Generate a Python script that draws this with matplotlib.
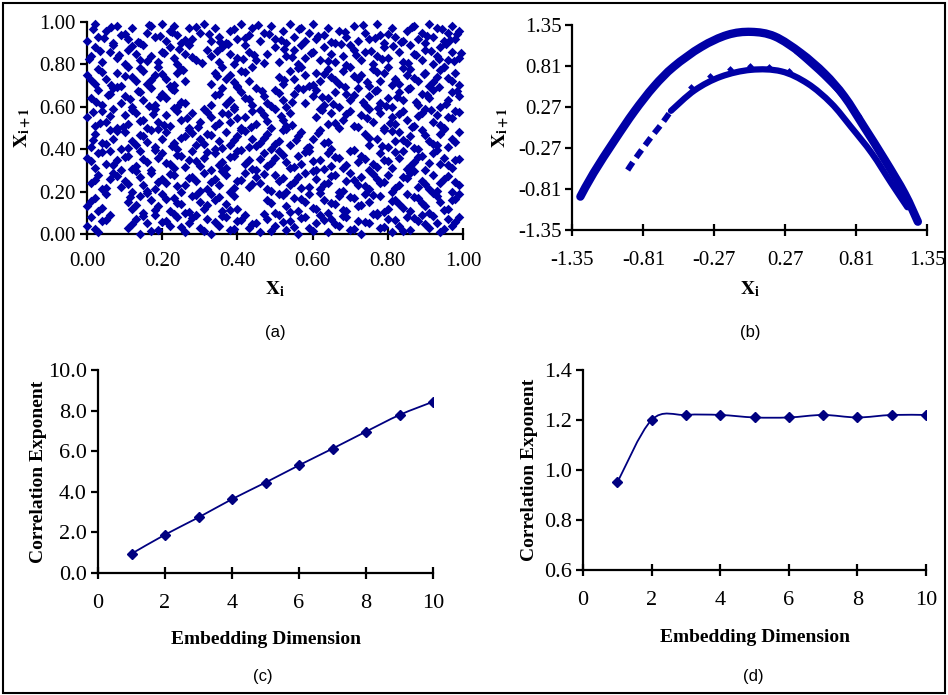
import matplotlib
matplotlib.use("Agg")
import matplotlib.pyplot as plt
from matplotlib.path import Path
from matplotlib.patches import PathPatch, Rectangle
from matplotlib.ticker import FormatStrFormatter

plt.rcParams['font.family'] = ['Liberation Serif', 'DejaVu Serif']
plt.rcParams['mathtext.fontset'] = 'stix'

BLUE = '#0000a6'
NAVY = '#000080'

rx9 = [.00, .02, .03, .05, .07, .08, .09, .11, .12, .14, .16, .17, .18, .20, .21, .22, .23, .24, .25, .27, .28, .30, .31, .33, .34, .35, .37, .38, .40, .41, .43, .44, .46, .47, .49, .50, .52, .53, .54, .55, .57, .58, .59, .60, .61, .63, .64, .66, .67, .69, .71, .72, .74, .75, .77, .78, .79, .81, .82, .84, .85, .87, .88, .89, .90, .91, .92, .93, .95, .96, .97, .98, .99]
ry9 = [.91, .99, .93, .96, .90, .98, .94, .92, .97, .90, .95, .98, .93, .99, .91, .96, .98, .94, .90, .97, .92, .95, .99, .91, .97, .93, .90, .96, .92, .99, .94, .97, .91, .95, .98, .92, .96, .90, .99, .93, .97, .91, .95, .99, .92, .94, .97, .90, .96, .93, .98, .91, .95, .92, .99, .94, .90, .97, .93, .91, .96, .98, .92, .95, .90, .99, .93, .97, .91, .95, .98, .92, .96]
rx8 = [.01, .02, .04, .06, .07, .08, .10, .11, .13, .14, .15, .17, .19, .20, .22, .23, .24, .26, .27, .29, .32, .33, .35, .36, .38, .39, .40, .42, .43, .45, .48, .50, .51, .53, .55, .56, .57, .58, .60, .62, .63, .65, .66, .68, .70, .71, .73, .74, .76, .77, .79, .80, .83, .84, .86, .87, .89, .90, .92, .93, .94, .95, .96, .97, .99]
ry8 = [.84, .88, .81, .86, .89, .83, .80, .87, .85, .82, .89, .84, .81, .86, .88, .83, .80, .85, .89, .82, .87, .84, .81, .88, .85, .80, .83, .89, .86, .82, .85, .88, .81, .84, .87, .80, .89, .83, .86, .82, .88, .85, .81, .84, .89, .87, .82, .86, .80, .84, .88, .83, .86, .81, .89, .85, .82, .87, .80, .84, .88, .79, .82, .86, .83]
rx7 = [.00, .02, .03, .05, .08, .09, .11, .12, .13, .15, .16, .18, .19, .21, .22, .24, .25, .26, .33, .34, .36, .37, .38, .40, .41, .43, .44, .51, .52, .54, .55, .57, .58, .59, .61, .62, .64, .65, .67, .68, .70, .72, .73, .75, .76, .78, .79, .80, .82, .83, .85, .86, .88, .90, .91, .93, .95, .97, .98]
ry7 = [.75, .71, .78, .73, .76, .70, .79, .74, .72, .77, .71, .75, .79, .73, .70, .76, .78, .72, .71, .76, .79, .73, .75, .70, .77, .72, .79, .74, .71, .77, .73, .79, .75, .70, .76, .72, .78, .74, .71, .77, .79, .73, .75, .70, .78, .72, .76, .79, .73, .71, .75, .78, .72, .76, .70, .74, .79, .72, .76]
rx6 = [.01, .03, .04, .06, .07, .09, .10, .12, .14, .15, .17, .18, .20, .21, .23, .24, .26, .33, .35, .36, .38, .39, .41, .42, .44, .45, .47, .48, .50, .52, .53, .55, .56, .58, .60, .61, .63, .64, .66, .67, .69, .70, .72, .74, .75, .77, .78, .80, .81, .83, .84, .86, .88, .89, .91, .92, .94, .96, .97, .99]
ry6 = [.64, .68, .61, .66, .69, .62, .65, .60, .67, .63, .69, .61, .66, .64, .68, .60, .62, .61, .66, .69, .63, .60, .67, .64, .61, .69, .65, .62, .68, .63, .60, .66, .69, .62, .65, .68, .61, .64, .67, .60, .66, .63, .69, .61, .65, .68, .62, .64, .60, .67, .63, .69, .61, .66, .64, .68, .60, .63, .67, .65]
rx5 = [.00, .02, .04, .05, .07, .08, .10, .11, .13, .15, .16, .18, .19, .21, .22, .24, .25, .27, .28, .30, .31, .33, .34, .36, .38, .39, .41, .42, .44, .45, .47, .49, .50, .52, .53, .54, .61, .62, .64, .65, .67, .68, .70, .71, .73, .75, .76, .78, .79, .81, .82, .84, .85, .87, .89, .90, .92, .93, .95, .96, .98]
ry5 = [.55, .51, .58, .53, .59, .50, .56, .52, .57, .54, .50, .59, .53, .56, .51, .58, .54, .50, .57, .53, .59, .55, .51, .57, .53, .59, .50, .55, .58, .52, .56, .50, .59, .54, .51, .57, .55, .59, .52, .57, .50, .54, .58, .51, .56, .59, .53, .57, .50, .55, .52, .58, .54, .51, .57, .59, .53, .56, .50, .55, .58]
rx4 = [.01, .02, .04, .06, .07, .09, .10, .12, .13, .15, .17, .18, .20, .21, .23, .24, .26, .27, .29, .30, .32, .34, .35, .37, .38, .40, .41, .43, .44, .46, .48, .49, .51, .52, .54, .56, .57, .59, .60, .62, .63, .65, .74, .75, .77, .79, .80, .82, .83, .85, .86, .88, .89, .91, .93, .94, .96, .97, .99]
ry4 = [.41, .47, .43, .49, .45, .40, .48, .44, .42, .46, .49, .41, .45, .48, .43, .40, .46, .49, .42, .45, .47, .40, .44, .48, .42, .46, .49, .41, .45, .43, .47, .40, .44, .49, .42, .46, .48, .41, .45, .49, .43, .40, .47, .42, .45, .49, .41, .44, .48, .43, .46, .40, .49, .44, .42, .47, .41, .45, .48]
rx3 = [.00, .02, .03, .05, .06, .08, .09, .11, .13, .14, .16, .17, .19, .20, .22, .23, .25, .27, .28, .30, .31, .33, .34, .36, .37, .39, .40, .42, .43, .45, .47, .48, .50, .51, .53, .54, .56, .57, .59, .61, .62, .64, .65, .67, .68, .70, .72, .73, .75, .76, .78, .79, .81, .83, .84, .86, .87, .89, .90, .92, .94, .95, .97, .98]
ry3 = [.36, .31, .38, .33, .39, .35, .30, .37, .32, .39, .34, .30, .36, .38, .33, .31, .37, .35, .39, .32, .36, .30, .38, .34, .31, .37, .39, .33, .35, .30, .38, .32, .36, .39, .34, .31, .37, .33, .39, .30, .35, .38, .32, .36, .31, .39, .34, .37, .30, .33, .38, .35, .31, .36, .39, .32, .34, .37, .30, .38, .33, .36, .31, .35]
rx2 = [.01, .03, .04, .06, .07, .09, .10, .12, .14, .15, .17, .18, .20, .21, .23, .25, .26, .28, .29, .31, .32, .34, .35, .37, .38, .40, .42, .43, .45, .46, .48, .50, .51, .53, .54, .56, .58, .59, .61, .62, .64, .66, .67, .69, .70, .72, .73, .75, .77, .78, .80, .81, .83, .84, .86, .88, .89, .91, .92, .94, .95, .97, .99]
ry2 = [.24, .28, .21, .26, .29, .22, .25, .20, .27, .23, .29, .21, .26, .24, .28, .20, .23, .27, .25, .29, .21, .26, .23, .28, .20, .25, .29, .22, .27, .24, .21, .28, .25, .20, .23, .27, .29, .22, .26, .21, .24, .28, .20, .25, .29, .23, .27, .21, .26, .24, .28, .20, .23, .27, .29, .22, .25, .21, .28, .24, .26, .20, .23]
rx1 = [.00, .02, .03, .05, .11, .12, .14, .15, .17, .19, .20, .22, .23, .25, .26, .28, .30, .31, .33, .34, .36, .37, .39, .40, .48, .50, .51, .53, .55, .56, .58, .59, .61, .63, .64, .66, .67, .69, .71, .72, .74, .75, .77, .78, .80, .82, .83, .85, .86, .88, .90, .91, .93, .94, .96, .97, .99]
ry1 = [.13, .17, .11, .19, .15, .12, .18, .10, .16, .13, .19, .11, .17, .14, .10, .18, .15, .12, .19, .16, .11, .14, .18, .12, .16, .10, .19, .13, .17, .11, .15, .19, .12, .16, .10, .14, .18, .11, .17, .13, .19, .15, .10, .18, .12, .16, .14, .19, .11, .17, .13, .10, .18, .15, .12, .16, .19]
rx0 = [.00, .01, .03, .04, .06, .11, .13, .14, .16, .18, .19, .21, .22, .24, .26, .27, .29, .30, .32, .33, .35, .37, .38, .40, .42, .43, .45, .46, .48, .50, .51, .53, .54, .56, .58, .59, .61, .62, .64, .65, .67, .69, .70, .72, .73, .75, .77, .78, .80, .81, .83, .85, .86, .88, .89, .91, .93, .94, .96, .97, .99]
ry0 = [.04, .08, .01, .06, .09, .03, .07, .00, .05, .09, .02, .06, .04, .08, .01, .05, .09, .03, .07, .00, .04, .08, .02, .06, .09, .03, .05, .01, .07, .04, .09, .02, .06, .00, .08, .03, .05, .09, .01, .07, .04, .08, .02, .06, .00, .05, .09, .03, .07, .01, .04, .08, .02, .06, .09, .03, .05, .01, .07, .04, .08]

# second pass over the same bands (points between the first ones)
qx9 = [.015, .045, .065, .100, .135, .165, .195, .225, .260, .290, .325, .355, .390, .420, .455, .485, .515, .565, .615, .650, .685, .735, .765, .800, .835, .865, .905, .945, .965, .985]
qy9 = [.965, .925, .975, .945, .905, .985, .935, .955, .915, .975, .945, .905, .965, .925, .985, .945, .915, .965, .935, .905, .955, .985, .925, .945, .905, .975, .935, .965, .915, .945]
qx8 = [.005, .035, .085, .120, .160, .205, .245, .280, .305, .345, .375, .415, .445, .470, .525, .545, .595, .640, .675, .715, .755, .785, .815, .855, .875, .915, .935, .955, .975, .995]
qy8 = [.825, .865, .845, .885, .815, .855, .875, .835, .805, .865, .895, .825, .845, .805, .875, .835, .855, .815, .895, .845, .865, .825, .885, .805, .845, .865, .825, .895, .815, .855]
qx7 = [.010, .040, .065, .100, .140, .170, .200, .230, .255, .345, .390, .420, .525, .560, .600, .630, .660, .690, .710, .745, .770, .810, .840, .870, .895, .920, .940, .960, .990]
qy7 = [.725, .765, .705, .745, .785, .725, .755, .705, .775, .745, .715, .765, .725, .785, .705, .755, .725, .795, .745, .715, .765, .705, .785, .735, .755, .715, .775, .735, .705]
qx6 = [.025, .055, .080, .115, .135, .165, .195, .225, .250, .340, .370, .400, .430, .465, .490, .510, .545, .575, .625, .655, .685, .710, .735, .765, .795, .825, .855, .875, .905, .935, .955, .985]
qy6 = [.625, .655, .695, .635, .675, .605, .645, .685, .625, .655, .615, .695, .635, .675, .605, .665, .625, .685, .645, .615, .695, .655, .625, .675, .605, .645, .685, .625, .655, .695, .615, .675]
qx5 = [.015, .035, .060, .095, .120, .140, .175, .205, .230, .265, .295, .320, .350, .375, .400, .435, .460, .480, .515, .545, .625, .660, .690, .720, .745, .775, .805, .830, .865, .880, .915, .940, .970, .990]
qy5 = [.575, .525, .555, .505, .585, .535, .565, .515, .595, .545, .505, .575, .525, .565, .545, .505, .585, .535, .555, .515, .585, .525, .565, .505, .545, .595, .525, .565, .505, .555, .585, .515, .545, .575]
qx4 = [.015, .050, .080, .110, .140, .160, .190, .225, .250, .280, .310, .330, .360, .390, .420, .450, .470, .500, .530, .555, .585, .615, .640, .750, .785, .810, .840, .870, .900, .920, .950, .980]
qy4 = [.445, .425, .485, .405, .465, .435, .495, .415, .455, .475, .425, .465, .405, .445, .485, .415, .455, .425, .495, .445, .405, .475, .435, .455, .415, .485, .445, .405, .465, .425, .495, .435]
qx3 = [.010, .040, .070, .100, .120, .150, .180, .210, .240, .260, .290, .320, .350, .380, .410, .440, .460, .490, .520, .550, .580, .600, .630, .660, .690, .710, .740, .770, .800, .820, .850, .880, .910, .930, .960, .990]
qy3 = [.345, .385, .325, .365, .305, .355, .395, .335, .375, .315, .345, .385, .325, .365, .395, .305, .355, .335, .375, .315, .385, .345, .305, .365, .325, .395, .355, .315, .345, .385, .305, .365, .335, .395, .325, .355]
qx2 = [.020, .050, .080, .110, .130, .160, .190, .220, .240, .270, .300, .330, .360, .390, .410, .440, .470, .490, .520, .550, .570, .600, .630, .650, .680, .710, .740, .760, .790, .820, .850, .870, .900, .930, .960, .980]
qy2 = [.255, .215, .275, .235, .295, .205, .245, .285, .225, .265, .205, .245, .295, .215, .255, .235, .285, .205, .265, .245, .215, .295, .235, .275, .205, .255, .225, .285, .245, .215, .265, .295, .235, .205, .275, .245]
qx1 = [.010, .040, .115, .130, .160, .180, .210, .240, .270, .290, .320, .350, .380, .490, .520, .540, .570, .600, .620, .650, .680, .700, .730, .760, .790, .810, .840, .870, .890, .920, .950, .980]
qy1 = [.155, .125, .175, .135, .195, .115, .165, .145, .105, .185, .135, .175, .115, .145, .185, .105, .165, .125, .195, .145, .115, .175, .135, .185, .105, .155, .125, .175, .145, .195, .115, .165]
qx0 = [.020, .050, .120, .150, .170, .200, .230, .250, .280, .310, .340, .360, .390, .410, .440, .470, .490, .520, .550, .570, .600, .630, .660, .680, .710, .740, .760, .790, .820, .840, .870, .900, .920, .950, .980]
qy0 = [.025, .065, .045, .085, .015, .055, .095, .035, .075, .015, .055, .085, .025, .065, .045, .095, .015, .055, .035, .075, .015, .065, .045, .085, .025, .055, .095, .035, .065, .015, .075, .045, .085, .025, .055]

# (b) strands of the return map, points read along each band
outer_x = [-1.29, -1.19, -1.03, -0.88, -0.73, -0.58, -0.37, -0.17, 0.01, 0.19, 0.39, 0.57, 0.72, 0.87, 1.03, 1.18, 1.28]
outer_y = [-0.91, -0.60, -0.17, 0.21, 0.54, 0.80, 1.06, 1.22, 1.26, 1.20, 0.98, 0.71, 0.41, 0.01, -0.43, -0.87, -1.24]
inner_x = [-0.60, -0.42, -0.22, 0.01, 0.24, 0.44, 0.62, 0.77, 0.93, 1.08, 1.20]
inner_y = [0.22, 0.49, 0.67, 0.76, 0.74, 0.58, 0.32, 0.01, -0.34, -0.74, -1.05]
tail_x = [-0.93, -0.88, -0.80, -0.73, -0.67, -0.60]
tail_y = [-0.56, -0.43, -0.24, -0.08, 0.05, 0.22]
mid_x = [0.35, 0.52, 0.66, 0.76, 0.84]
mid_y = [1.00, 0.74, 0.50, 0.30, 0.14]
top_x = [-0.45, -0.30, -0.15, 0.00, 0.15, 0.30]
top_y = [0.53, 0.68, 0.77, 0.81, 0.80, 0.74]

# (c), (d) correlation exponent vs embedding dimension
dims = [1, 2, 3, 4, 5, 6, 7, 8, 9, 10]
corr_random = [0.95, 1.89, 2.74, 3.64, 4.46, 5.31, 6.13, 6.97, 7.79, 8.44]
corr_henon = [0.95, 1.20, 1.22, 1.22, 1.21, 1.21, 1.22, 1.21, 1.22, 1.22]


def smooth_path(x, y, t=1 / 6):
    # excel-like smoothed line through the points
    verts = [(x[0], y[0])]
    codes = [Path.MOVETO]
    n = len(x)
    for i in range(n - 1):
        xa, ya = (x[i - 1], y[i - 1]) if i > 0 else (x[i], y[i])
        xb, yb = (x[i + 2], y[i + 2]) if i + 2 < n else (x[i + 1], y[i + 1])
        c1 = (x[i] + (x[i + 1] - xa) * t, y[i] + (y[i + 1] - ya) * t)
        c2 = (x[i + 1] - (xb - x[i]) * t, y[i + 1] - (yb - y[i]) * t)
        verts += [c1, c2, (x[i + 1], y[i + 1])]
        codes += [Path.CURVE4] * 3
    return Path(verts, codes)


def style(ax, size, xpad):
    for s in ['top', 'right']:
        ax.spines[s].set_visible(False)
    for s in ['left', 'bottom']:
        ax.spines[s].set_linewidth(1.6)
    ax.tick_params(axis='x', direction='inout', length=8, width=1.6, labelsize=size, pad=xpad)
    ax.tick_params(axis='y', direction='out', length=5, width=1.6, labelsize=size, pad=3)


fig = plt.figure(figsize=(9.48, 6.95), dpi=100)
fig.add_artist(Rectangle((0.003, 0.003), 0.994, 0.993, transform=fig.transFigure,
                         fill=False, edgecolor='black', lw=1.5))

# (a)
ax = fig.add_axes([0.0918, 0.6633, 0.3966, 0.305])
xs, ys = [], []
for bx, by in [(rx0, ry0), (rx1, ry1), (rx2, ry2), (rx3, ry3), (rx4, ry4),
               (rx5, ry5), (rx6, ry6), (rx7, ry7), (rx8, ry8), (rx9, ry9),
               (qx0, qy0), (qx1, qy1), (qx2, qy2), (qx3, qy3), (qx4, qy4),
               (qx5, qy5), (qx6, qy6), (qx7, qy7), (qx8, qy8), (qx9, qy9)]:
    n = min(len(bx), len(by))
    xs += bx[:n]
    ys += by[:n]
ax.scatter(xs, ys, marker='D', s=24, color=BLUE, lw=0, clip_on=False, zorder=3)
ax.set_xlim(0, 1)
ax.set_ylim(0, 1)
ax.set_xticks([0, .2, .4, .6, .8, 1.0])
ax.set_yticks([0, .2, .4, .6, .8, 1.0])
ax.xaxis.set_major_formatter(FormatStrFormatter('%.2f'))
ax.yaxis.set_major_formatter(FormatStrFormatter('%.2f'))
style(ax, 15, 9)
ax.set_xlabel(r'$\mathbf{X_i}$', fontsize=14, labelpad=6)
ax.set_ylabel(r'$\mathbf{X_{i+1}}$', fontsize=14, labelpad=4)

# (b)
ax = fig.add_axes([0.6039, 0.669, 0.374, 0.295])
ax.add_patch(PathPatch(smooth_path(outer_x, outer_y), fill=False, edgecolor=BLUE,
                       lw=6, capstyle='round', joinstyle='round'))
ax.add_patch(PathPatch(smooth_path(inner_x, inner_y), fill=False, edgecolor=BLUE,
                       lw=4.5, capstyle='round', joinstyle='round'))
ax.add_patch(PathPatch(smooth_path(tail_x, tail_y), fill=False, edgecolor=BLUE,
                       lw=4.2, linestyle=(0, (1.6, 1.0))))
ax.add_patch(PathPatch(smooth_path(mid_x, mid_y), fill=False, edgecolor=BLUE,
                       lw=3.2, capstyle='round'))
ax.scatter(top_x, top_y, marker='D', s=12, color=BLUE, lw=0)
ax.set_xlim(-1.35, 1.35)
ax.set_ylim(-1.35, 1.35)
tk = [-1.35, -0.81, -0.27, 0.27, 0.81, 1.35]
ax.set_xticks(tk)
ax.set_yticks(tk)
ax.xaxis.set_major_formatter(FormatStrFormatter('%.2f'))
ax.yaxis.set_major_formatter(FormatStrFormatter('%.2f'))
style(ax, 15, 11)
ax.set_xlabel(r'$\mathbf{X_i}$', fontsize=14, labelpad=7)
ax.set_ylabel(r'$\mathbf{X_{i+1}}$', fontsize=14, labelpad=4)

# (c)
ax = fig.add_axes([0.1034, 0.1755, 0.3534, 0.292])
ax.add_patch(PathPatch(smooth_path(dims, corr_random), fill=False, edgecolor=NAVY, lw=1.3))
ax.plot(dims, corr_random, ls='none', marker='D', ms=5, color=NAVY)
ax.set_xlim(0, 10)
ax.set_ylim(0, 10)
ax.set_xticks([0, 2, 4, 6, 8, 10])
ax.set_yticks([0, 2, 4, 6, 8, 10])
ax.yaxis.set_major_formatter(FormatStrFormatter('%.1f'))
style(ax, 16, 11)
ax.set_xlabel('Embedding Dimension', fontsize=14, fontweight='bold', labelpad=13)
ax.set_ylabel('Correlation Exponent', fontsize=14, fontweight='bold', labelpad=1)

# (d)
ax = fig.add_axes([0.615, 0.1799, 0.3618, 0.2878])
ax.add_patch(PathPatch(smooth_path(dims, corr_henon), fill=False, edgecolor=NAVY, lw=1.3))
ax.plot(dims, corr_henon, ls='none', marker='D', ms=5, color=NAVY)
ax.set_xlim(0, 10)
ax.set_ylim(0.6, 1.4)
ax.set_xticks([0, 2, 4, 6, 8, 10])
ax.set_yticks([0.6, 0.8, 1.0, 1.2, 1.4])
ax.yaxis.set_major_formatter(FormatStrFormatter('%.1f'))
style(ax, 16, 11)
ax.set_xlabel('Embedding Dimension', fontsize=14, fontweight='bold', labelpad=14)
ax.set_ylabel('Correlation Exponent', fontsize=14, fontweight='bold', labelpad=4)

for lab, x, y in [('(a)', 275, 333), ('(b)', 750, 333), ('(c)', 263, 677), ('(d)', 753, 677)]:
    fig.text(x / 948, 1 - y / 695, lab, ha='center', va='center', fontsize=12,
             family='Liberation Sans')

fig.savefig('out.png', dpi=100)
